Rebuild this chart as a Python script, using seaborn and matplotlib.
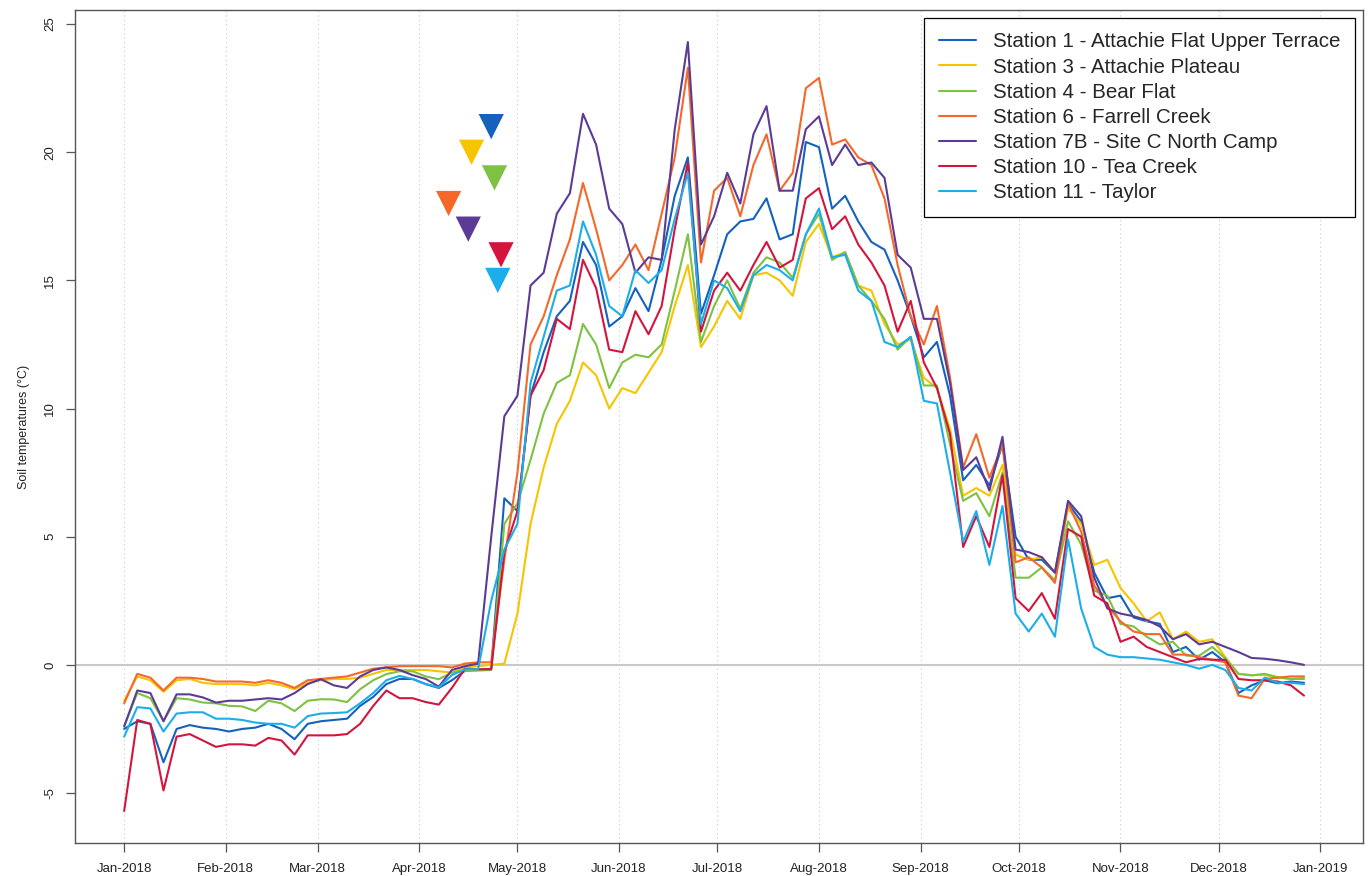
import numpy as np
import pandas as pd
import matplotlib
matplotlib.use("Agg")
import matplotlib.pyplot as plt
import matplotlib.dates as mdates
import seaborn as sns

# ---------------- data ----------------
dates = pd.date_range("2018-01-01", periods=91, freq="4D")

stations = [
    "Station 1 - Attachie Flat Upper Terrace",
    "Station 3 - Attachie Plateau",
    "Station 4 - Bear Flat",
    "Station 6 - Farrell Creek",
    "Station 7B - Site C North Camp",
    "Station 10 - Tea Creek",
    "Station 11 - Taylor",
]
colors = ["#1462BE", "#F7C400", "#7DC242", "#F5682A", "#5C3B97", "#D3153E", "#1BAEEA"]

st1 = [-2.5, -2.2, -2.3, -3.8, -2.5, -2.35, -2.45, -2.5, -2.6, -2.5, -2.45, -2.3, -2.5, -2.9, -2.3, -2.2,
       -2.15, -2.1, -1.6, -1.25, -0.75, -0.55, -0.55, -0.75, -0.9, -0.6, -0.23, -0.2, -0.15, 6.5, 6.0, 10.5,
       12.2, 13.6, 14.2, 16.5, 15.6, 13.2, 13.6, 14.7, 13.8, 15.8, 18.3, 19.8, 13.7, 15.2, 16.8, 17.3,
       17.4, 18.2, 16.6, 16.8, 20.4, 20.2, 17.8, 18.3, 17.3, 16.5, 16.2, 15.0, 13.6, 12.0, 12.6, 10.5,
       7.2, 7.8, 7.0, 8.6, 5.0, 4.1, 4.1, 3.6, 6.3, 5.6, 3.6, 2.6, 2.7, 1.85, 1.7, 1.6, 0.5, 0.7, 0.2,
       0.5, 0.1, -1.1, -0.8, -0.6, -0.72, -0.65, -0.7]
st3 = [-1.4, -0.45, -0.6, -1.05, -0.6, -0.55, -0.7, -0.75, -0.75, -0.75, -0.8, -0.7, -0.8, -0.95, -0.7, -0.6,
       -0.55, -0.55, -0.5, -0.35, -0.2, -0.2, -0.2, -0.2, -0.25, -0.3, -0.1, -0.05, 0.0, 0.05, 2.0, 5.5,
       7.7, 9.4, 10.3, 11.8, 11.3, 10.0, 10.8, 10.6, 11.4, 12.2, 14.0, 15.6, 12.4, 13.2, 14.2, 13.5,
       15.2, 15.3, 15.0, 14.4, 16.5, 17.2, 15.9, 16.1, 14.8, 14.6, 13.3, 12.5, 12.7, 11.2, 10.8, 9.2,
       6.6, 6.9, 6.6, 7.8, 4.3, 4.1, 4.2, 3.6, 6.1, 5.5, 3.9, 4.1, 3.0, 2.4, 1.7, 2.05, 1.0, 1.3, 0.9,
       1.0, 0.3, -0.35, -0.4, -0.4, -0.5, -0.55, -0.5]
st4 = [-2.4, -1.1, -1.3, -2.2, -1.3, -1.35, -1.47, -1.5, -1.6, -1.62, -1.8, -1.4, -1.5, -1.8, -1.4, -1.34,
       -1.35, -1.45, -0.95, -0.6, -0.36, -0.25, -0.25, -0.45, -0.56, -0.3, -0.23, -0.22, -0.2, 5.5, 6.3, 8.0,
       9.8, 11.0, 11.3, 13.3, 12.5, 10.8, 11.8, 12.1, 12.0, 12.5, 14.6, 16.8, 12.6, 14.0, 15.0, 13.9,
       15.3, 15.9, 15.7, 15.1, 16.8, 17.6, 15.8, 16.1, 14.8, 14.2, 13.5, 12.3, 12.8, 10.9, 10.9, 8.6,
       6.4, 6.7, 5.8, 7.5, 3.4, 3.4, 3.8, 3.3, 5.6, 4.7, 2.9, 2.7, 1.6, 1.5, 1.1, 0.8, 0.9, 0.36, 0.36,
       0.7, 0.25, -0.35, -0.41, -0.35, -0.48, -0.55, -0.55]
st6 = [-1.5, -0.35, -0.5, -1.0, -0.5, -0.5, -0.55, -0.65, -0.65, -0.65, -0.7, -0.6, -0.7, -0.9, -0.6, -0.55,
       -0.5, -0.45, -0.3, -0.15, -0.1, -0.05, -0.05, -0.05, -0.05, -0.1, 0.05, 0.1, 0.1, 4.1, 7.5, 12.5,
       13.6, 15.2, 16.6, 18.8, 17.0, 15.0, 15.6, 16.4, 15.4, 17.6, 19.8, 23.3, 15.7, 18.5, 19.0, 17.5,
       19.5, 20.7, 18.5, 19.2, 22.5, 22.9, 20.3, 20.5, 19.8, 19.5, 18.2, 15.6, 13.6, 12.5, 14.0, 11.2,
       7.7, 9.0, 7.3, 8.6, 4.0, 4.2, 3.8, 3.2, 6.3, 5.2, 3.1, 2.3, 1.7, 1.3, 1.2, 1.2, 0.4, 0.4, 0.3,
       0.2, 0.1, -1.2, -1.3, -0.55, -0.5, -0.45, -0.45]
st7b = [-2.4, -1.0, -1.1, -2.2, -1.15, -1.15, -1.27, -1.47, -1.4, -1.4, -1.35, -1.3, -1.35, -1.1, -0.75, -0.56,
        -0.8, -0.9, -0.45, -0.2, -0.1, -0.2, -0.4, -0.55, -0.85, -0.2, -0.05, 0.05, 5.0, 9.7, 10.5, 14.8,
        15.3, 17.6, 18.4, 21.5, 20.3, 17.8, 17.2, 15.3, 15.9, 15.8, 20.9, 24.3, 16.4, 17.5, 19.2, 18.0,
        20.7, 21.8, 18.5, 18.5, 20.9, 21.4, 19.5, 20.3, 19.5, 19.6, 19.0, 16.0, 15.5, 13.5, 13.5, 11.0,
        7.6, 8.1, 6.8, 8.9, 4.5, 4.4, 4.2, 3.6, 6.4, 5.8, 3.4, 2.2, 2.0, 1.9, 1.75, 1.5, 1.0, 1.2, 0.8,
        0.9, 0.7, 0.5, 0.27, 0.24, 0.18, 0.1, 0.0]
st10 = [-5.7, -2.15, -2.3, -4.9, -2.8, -2.7, -2.95, -3.2, -3.1, -3.1, -3.15, -2.85, -2.95, -3.5, -2.75, -2.75,
        -2.75, -2.7, -2.3, -1.6, -1.0, -1.3, -1.3, -1.45, -1.55, -0.9, -0.15, -0.17, -0.17, 4.4, 6.0, 10.5,
        11.5, 13.5, 13.1, 15.8, 14.7, 12.3, 12.2, 13.8, 12.9, 14.0, 17.0, 19.6, 13.0, 14.6, 15.3, 14.6,
        15.6, 16.5, 15.5, 15.8, 18.2, 18.6, 17.0, 17.5, 16.4, 15.7, 14.8, 13.0, 14.2, 11.8, 10.8, 9.0,
        4.6, 5.8, 4.6, 7.4, 2.6, 2.1, 2.8, 1.8, 5.3, 5.0, 2.7, 2.4, 0.9, 1.1, 0.7, 0.5, 0.3, 0.1, 0.23,
        0.2, 0.2, -0.55, -0.6, -0.6, -0.65, -0.8, -1.2]
st11 = [-2.8, -1.65, -1.7, -2.6, -1.9, -1.85, -1.85, -2.1, -2.1, -2.15, -2.25, -2.3, -2.3, -2.45, -2.0, -1.9,
        -1.88, -1.85, -1.5, -1.1, -0.6, -0.43, -0.55, -0.75, -0.88, -0.4, -0.17, -0.17, 2.5, 4.5, 5.5, 11.0,
        12.8, 14.6, 14.8, 17.3, 16.0, 14.0, 13.6, 15.4, 14.9, 15.4, 17.4, 19.2, 13.3, 15.0, 14.7, 13.8,
        15.2, 15.6, 15.4, 15.0, 16.8, 17.8, 15.9, 16.0, 14.6, 14.2, 12.6, 12.4, 12.8, 10.3, 10.2, 7.5,
        4.8, 6.0, 3.9, 6.2, 2.0, 1.3, 2.0, 1.1, 4.9, 2.2, 0.7, 0.4, 0.3, 0.3, 0.25, 0.2, 0.1, 0.0, -0.15,
        0.0, -0.2, -0.9, -1.0, -0.5, -0.7, -0.7, -0.75]

# snow-melt style markers (date, value) per station
marker_dates = ["2018-04-23", "2018-04-17", "2018-04-24", "2018-04-10", "2018-04-16", "2018-04-26", "2018-04-25"]
marker_values = [21, 20, 19, 18, 17, 16, 15]

month_ticks = pd.date_range("2018-01-01", "2019-01-01", freq="MS")

# ---------------- build frames ----------------
series = [st1, st3, st4, st6, st7b, st10, st11]
long = pd.concat(
    [pd.DataFrame({"date": dates, "temp": vals, "station": name}) for name, vals in zip(stations, series)],
    ignore_index=True,
)
markers_df = pd.DataFrame({"date": pd.to_datetime(marker_dates), "temp": marker_values, "station": stations})

# ---------------- plot ----------------
sns.set_theme(style="white")
plt.rcParams["font.family"] = ["Liberation Sans", "DejaVu Sans"]

fig = plt.figure(figsize=(13.68, 8.76), dpi=100)
ax = fig.add_axes([75 / 1368, 1 - 843 / 876, (1363 - 75) / 1368, (843 - 10) / 876])

palette = dict(zip(stations, colors))

# grid lines
for t in month_ticks:
    ax.axvline(t, color="#d9d9d9", lw=0.8, ls=(0, (1.5, 2.5)), zorder=0)
ax.axhline(0, color="#c9c9c9", lw=1.5, zorder=0.5)

sns.lineplot(data=long, x="date", y="temp", hue="station", hue_order=stations,
             palette=palette, lw=1.5, ax=ax, legend=True, zorder=2)
sns.scatterplot(data=markers_df, x="date", y="temp", hue="station", hue_order=stations,
                palette=palette, marker="v", s=330, linewidth=0, ax=ax, legend=False, zorder=3)

ax.set_xlim(pd.Timestamp("2017-12-17"), pd.Timestamp("2019-01-14"))
ax.set_ylim(-6.95, 25.55)

ax.set_xticks(month_ticks)
ax.xaxis.set_major_formatter(mdates.DateFormatter("%b-%Y"))
ax.set_yticks([-5, 0, 5, 10, 15, 20, 25])
ax.set_yticklabels(["-5", "0", "5", "10", "15", "20", "25"], rotation=90, va="center")
ax.tick_params(axis="both", which="major", bottom=True, left=True, length=6.5, width=0.9,
               color="#555555", labelsize=9.5, labelcolor="#222222", direction="out")
ax.tick_params(axis="x", pad=8)
ax.tick_params(axis="y", pad=7)
for sp in ax.spines.values():
    sp.set_color("#555555")
    sp.set_linewidth(1.0)

ax.set_xlabel("")
ax.set_ylabel("Soil temperatures (°C)", fontsize=9, color="#222222", labelpad=10)

handles, labels = ax.get_legend_handles_labels()
leg = ax.legend(handles, labels, loc="upper right", bbox_to_anchor=(0.9938, 0.9904),
                borderaxespad=0, fontsize=14.8, frameon=True, fancybox=False,
                edgecolor="black", framealpha=1, handlelength=1.8, handletextpad=0.85,
                labelspacing=0.3, borderpad=0.7)
leg.get_frame().set_linewidth(0.9)
for h in leg.get_lines():
    h.set_linewidth(1.5)

fig.savefig("out.png", dpi=100)
